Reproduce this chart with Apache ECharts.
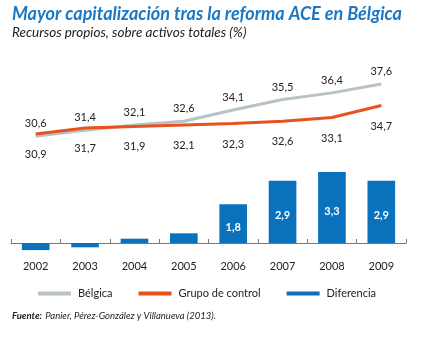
<!DOCTYPE html>
<html>
<head>
<meta charset="utf-8">
<script src="https://cdn.jsdelivr.net/npm/echarts@6/dist/echarts.min.js"></script>
<style>
html,body{margin:0;padding:0;background:#fff;}
#c{width:433px;height:338px;}
</style>
</head>
<body>
<div id="c"></div>
<script>
const categories = ['2002','2003','2004','2005','2006','2007','2008','2009'];
const belgica = [30.6, 31.4, 32.1, 32.6, 34.1, 35.5, 36.4, 37.6];
const control = [30.9, 31.7, 31.9, 32.1, 32.3, 32.6, 33.1, 34.7];
const diferencia = [-0.33, -0.2, 0.2, 0.45, 1.8, 2.9, 3.3, 2.9];
const diferenciaLabels = ['', '', '', '', '1,8', '2,9', '3,3', '2,9'];

const FONT = 'Lato';
const fmt = v => String(v).replace('.', ',');

const chart = echarts.init(document.getElementById('c'), null, {renderer: 'canvas'});
chart.setOption({
  animation: false,
  backgroundColor: '#ffffff',
  textStyle: {fontFamily: FONT},
  title: {
    text: 'Mayor capitalización tras la reforma ACE en Bélgica',
    subtext: 'Recursos propios, sobre activos totales (%)',
    left: 7, top: 0, itemGap: 3,
    textStyle: {fontFamily: FONT, fontSize: 18, fontWeight: 'bold', fontStyle: 'italic', color: '#1b78c5'},
    subtextStyle: {fontFamily: FONT, fontSize: 13.5, fontStyle: 'italic', color: '#222'}
  },
  legend: {
    left: 33, top: 283, itemWidth: 33, itemHeight: 4, itemGap: 26,
    textStyle: {fontFamily: FONT, fontSize: 11, color: '#222', padding: [0,0,0,2]},
    data: [
      {name: 'Bélgica', icon: 'rect', itemStyle: {color: '#b8c3c7'}},
      {name: 'Grupo de control', icon: 'rect', itemStyle: {color: '#e8531d'}},
      {name: 'Diferencia', icon: 'rect', itemStyle: {color: '#0a72bd'}}
    ]
  },
  grid: [
    {left: 11, right: 27, top: 66, height: 97},
    {left: 11, right: 27, top: 157, height: 96.75}
  ],
  xAxis: [
    {gridIndex: 0, type: 'category', data: categories, boundaryGap: true, show: false},
    {gridIndex: 1, type: 'category', data: categories, boundaryGap: true,
     axisLine: {onZero: true, lineStyle: {color: '#777', width: 1}},
     axisTick: {show: true, inside: true, length: 4, lineStyle: {color: '#777'}},
     axisLabel: {margin: 7, fontSize: 11, color: '#222', fontFamily: FONT}}
  ],
  yAxis: [
    {gridIndex: 0, type: 'value', min: 27, max: 40, show: false, splitLine: {show: false}},
    {gridIndex: 1, type: 'value', min: -0.5, max: 4, show: false, splitLine: {show: false}}
  ],
  series: [
    {
      name: 'Bélgica', type: 'line', xAxisIndex: 0, yAxisIndex: 0, data: belgica,
      showSymbol: true, symbol: 'circle', symbolSize: 0, z: 3,
      lineStyle: {color: '#b8c3c7', width: 3},
      itemStyle: {color: '#b8c3c7'},
      label: {show: true, position: 'top', distance: 7, fontSize: 11, color: '#222', fontFamily: FONT,
              formatter: p => fmt(p.value)}
    },
    {
      name: 'Grupo de control', type: 'line', xAxisIndex: 0, yAxisIndex: 0, data: control,
      showSymbol: true, symbol: 'circle', symbolSize: 0, z: 4,
      lineStyle: {color: '#e8531d', width: 3},
      itemStyle: {color: '#e8531d'},
      label: {show: true, position: 'bottom', distance: 15, fontSize: 11, color: '#222', fontFamily: FONT,
              formatter: p => fmt(p.value)}
    },
    {
      name: 'Diferencia', type: 'bar', xAxisIndex: 1, yAxisIndex: 1, data: diferencia,
      barWidth: '56%',
      itemStyle: {color: '#0a72bd'},
      label: {show: true, position: 'inside', offset: [0, 4], fontSize: 11, fontWeight: 'bold', color: '#fff', fontFamily: FONT,
              formatter: p => diferenciaLabels[p.dataIndex]}
    }
  ],
  graphic: [
    {type: 'text', left: 12, top: 310, style: {
      text: '{b|Fuente:} {i|Panier, Pérez-González y Villanueva (2013).}',
      rich: {
        b: {fontFamily: FONT, fontSize: 9.5, fontWeight: 'bold', fontStyle: 'italic', fill: '#222'},
        i: {fontFamily: FONT, fontSize: 9.5, fontStyle: 'italic', fill: '#222'}
      }
    }}
  ]
});
</script>
</body>
</html>
